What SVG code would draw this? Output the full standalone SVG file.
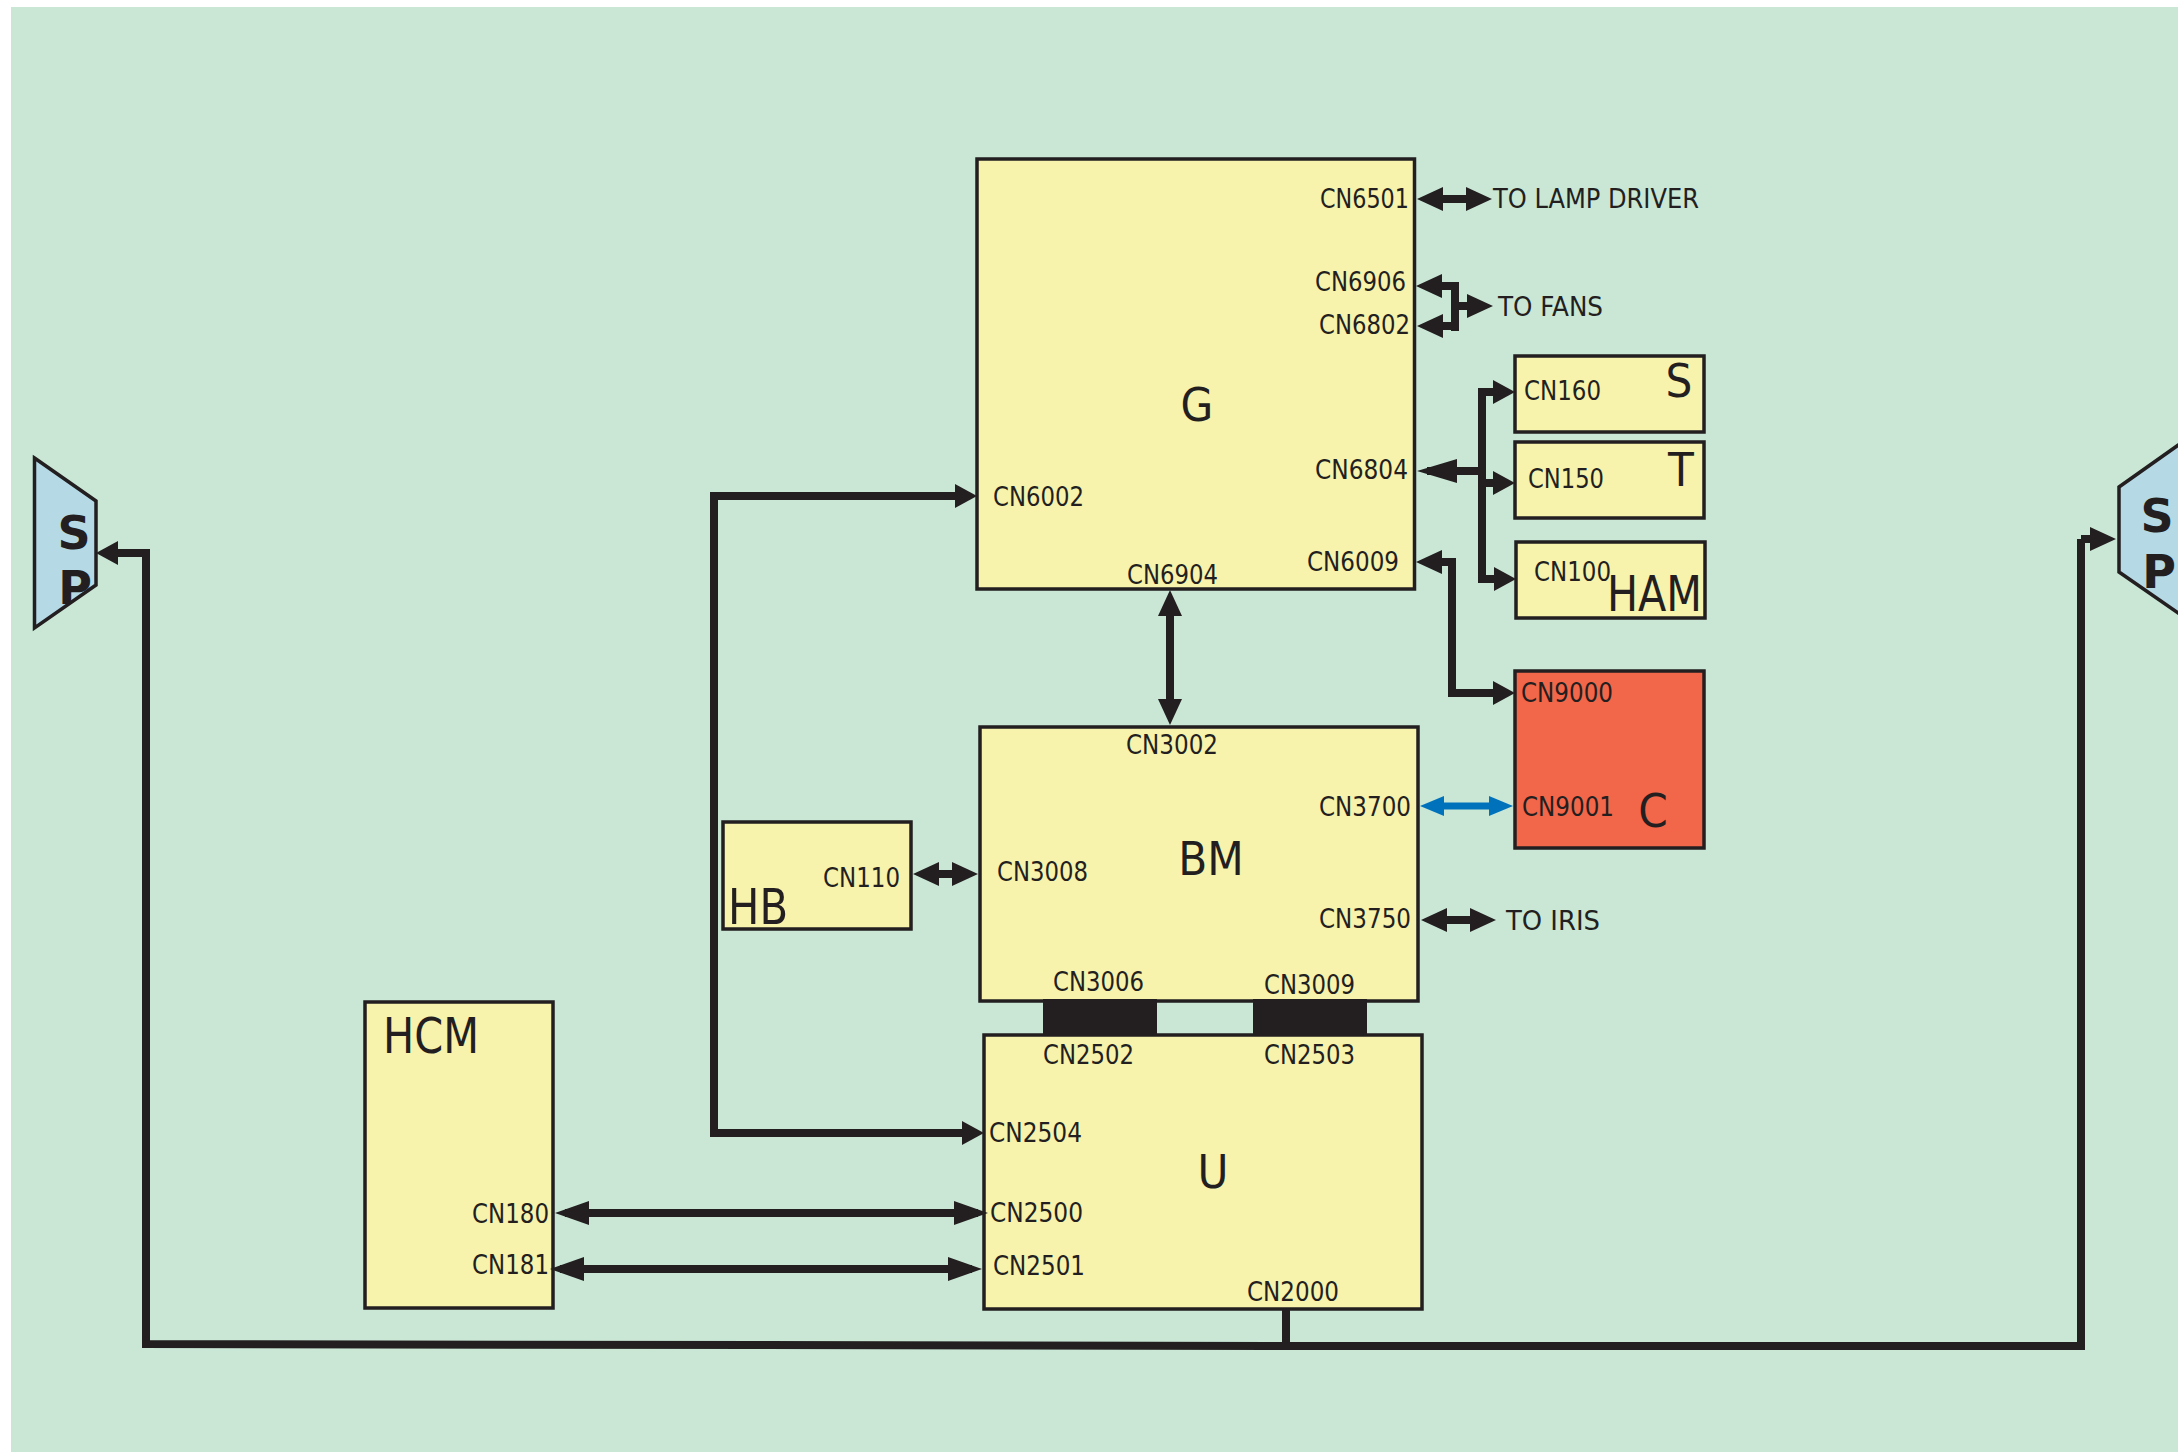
<svg xmlns="http://www.w3.org/2000/svg" width="2178" height="1452" viewBox="0 0 2178 1452">
<style>
text{font-family:"DejaVu Sans Condensed","DejaVu Sans",sans-serif;fill:#231f20}
.b{fill:#f7f2ac;stroke:#231f20;stroke-width:3.500}
.sp{fill:#b5dae6;stroke:#231f20;stroke-width:3.500}
.l{font-size:26px}
.n{font-size:47px}
.h{font-family:"DejaVu Sans",sans-serif;font-weight:bold;font-size:46px;text-anchor:middle}
.m{text-anchor:middle}
.c{fill:none;stroke:#231f20;stroke-width:8}
.a{marker-end:url(#ah)}
.s{marker-start:url(#ah)}
.as{marker-end:url(#sh)}
.ss{marker-start:url(#sh)}
.am{marker-end:url(#mh)}
.sm{marker-start:url(#mh)}
.ls{marker-start:url(#lh)}
.blue{stroke:#0072bc;stroke-width:7;marker-start:url(#bh);marker-end:url(#bh)}
</style>
<defs>
<marker id="ah" markerUnits="userSpaceOnUse" markerWidth="26" markerHeight="24" refX="16" refY="12" orient="auto-start-reverse"><path d="M0 0L26 12L0 24Z" fill="#231f20"/></marker>
<marker id="sh" markerUnits="userSpaceOnUse" markerWidth="22" markerHeight="24" refX="12" refY="12" orient="auto-start-reverse"><path d="M0 0L22 12L0 24Z" fill="#231f20"/></marker>
<marker id="mh" markerUnits="userSpaceOnUse" markerWidth="34" markerHeight="24" refX="24" refY="12" orient="auto-start-reverse"><path d="M0 0L34 12L0 24Z" fill="#231f20"/></marker>
<marker id="lh" markerUnits="userSpaceOnUse" markerWidth="40" markerHeight="24" refX="30" refY="12" orient="auto-start-reverse"><path d="M0 0L40 12L0 24Z" fill="#231f20"/></marker>
<marker id="bh" markerUnits="userSpaceOnUse" markerWidth="24" markerHeight="20" refX="14" refY="10" orient="auto-start-reverse"><path d="M0 0L24 10L0 20Z" fill="#0072bc"/></marker>
</defs>
<rect x="11" y="7" width="2167" height="1445" fill="#cae7d6"/>
<g id="node-g"><rect class="b" x="977" y="159" width="437.500" height="430"/>
<text class="n m" x="1197" y="421">G</text>
<text class="l" x="1320" y="208" textLength="89" lengthAdjust="spacingAndGlyphs">CN6501</text>
<text class="l" x="1315" y="291" textLength="91" lengthAdjust="spacingAndGlyphs">CN6906</text>
<text class="l" x="1319" y="334" textLength="91" lengthAdjust="spacingAndGlyphs">CN6802</text>
<text class="l" x="1315" y="479" textLength="93" lengthAdjust="spacingAndGlyphs">CN6804</text>
<text class="l" x="1307" y="571" textLength="92" lengthAdjust="spacingAndGlyphs">CN6009</text>
<text class="l" x="993" y="506" textLength="91" lengthAdjust="spacingAndGlyphs">CN6002</text>
<text class="l" x="1127" y="584" textLength="91" lengthAdjust="spacingAndGlyphs">CN6904</text></g>
<text id="lamp" class="l" x="1493" y="208" textLength="206" lengthAdjust="spacingAndGlyphs">TO LAMP DRIVER</text>
<text id="fans" class="l" x="1498" y="316" textLength="105" lengthAdjust="spacingAndGlyphs">TO FANS</text>
<text id="iris" class="l" x="1506" y="930" textLength="94" lengthAdjust="spacingAndGlyphs">TO IRIS</text>
<g id="node-s"><rect class="b" x="1515" y="356" width="189" height="76"/>
<text class="l" x="1524" y="400" textLength="77" lengthAdjust="spacingAndGlyphs">CN160</text>
<text class="n m" x="1679" y="397">S</text></g>
<g id="node-t"><rect class="b" x="1515" y="442" width="189" height="76"/>
<text class="l" x="1528" y="488" textLength="76" lengthAdjust="spacingAndGlyphs">CN150</text>
<text class="n m" x="1681" y="486">T</text></g>
<g id="node-ham"><rect class="b" x="1516" y="542" width="189" height="76"/>
<text class="l" x="1534" y="581" textLength="77" lengthAdjust="spacingAndGlyphs">CN100</text>
<text class="n" x="1607" y="611" style="font-size:50px" textLength="95" lengthAdjust="spacingAndGlyphs">HAM</text></g>
<g id="node-c"><rect class="b" style="fill:#f26649" x="1515" y="671" width="189" height="177"/>
<text class="l" x="1521" y="702" textLength="92" lengthAdjust="spacingAndGlyphs">CN9000</text>
<text class="l" x="1522" y="816" textLength="92" lengthAdjust="spacingAndGlyphs">CN9001</text>
<text class="n m" x="1653" y="827">C</text></g>
<g id="node-bm"><rect class="b" x="980" y="727" width="438" height="274"/>
<text class="n m" x="1211" y="875">BM</text>
<text class="l" x="1126" y="754" textLength="92" lengthAdjust="spacingAndGlyphs">CN3002</text>
<text class="l" x="1319" y="816" textLength="92" lengthAdjust="spacingAndGlyphs">CN3700</text>
<text class="l" x="1319" y="928" textLength="92" lengthAdjust="spacingAndGlyphs">CN3750</text>
<text class="l" x="997" y="881" textLength="91" lengthAdjust="spacingAndGlyphs">CN3008</text>
<text class="l" x="1053" y="991" textLength="91" lengthAdjust="spacingAndGlyphs">CN3006</text>
<text class="l" x="1264" y="994" textLength="91" lengthAdjust="spacingAndGlyphs">CN3009</text></g>
<g id="node-hb"><rect class="b" x="723" y="822" width="188" height="107"/>
<text class="l" x="823" y="887" textLength="77" lengthAdjust="spacingAndGlyphs">CN110</text>
<text class="n" x="728" y="924" style="font-size:50px" textLength="60" lengthAdjust="spacingAndGlyphs">HB</text></g>
<g id="node-u"><rect class="b" x="984" y="1035" width="438" height="274"/>
<text class="n m" x="1213" y="1188">U</text>
<text class="l" x="1043" y="1064" textLength="91" lengthAdjust="spacingAndGlyphs">CN2502</text>
<text class="l" x="1264" y="1064" textLength="91" lengthAdjust="spacingAndGlyphs">CN2503</text>
<text class="l" x="989" y="1142" textLength="93" lengthAdjust="spacingAndGlyphs">CN2504</text>
<text class="l" x="990" y="1222" textLength="93" lengthAdjust="spacingAndGlyphs">CN2500</text>
<text class="l" x="993" y="1275" textLength="92" lengthAdjust="spacingAndGlyphs">CN2501</text>
<text class="l" x="1247" y="1301" textLength="92" lengthAdjust="spacingAndGlyphs">CN2000</text></g>
<g id="node-hcm"><rect class="b" x="365" y="1002" width="188" height="306"/>
<text class="n" x="383" y="1053" style="font-size:49px" textLength="96" lengthAdjust="spacingAndGlyphs">HCM</text>
<text class="l" x="472" y="1223" textLength="77" lengthAdjust="spacingAndGlyphs">CN180</text>
<text class="l" x="472" y="1274" textLength="77" lengthAdjust="spacingAndGlyphs">CN181</text></g>
<g id="node-sp-left"><path class="sp" d="M34.500 458L96 501V585L34.500 628Z"/>
<text class="h" x="74" y="549">S</text><text class="h" x="75" y="604">P</text></g>
<g id="node-sp-right"><path class="sp" d="M2184 441L2119 487V572L2184 617"/>
<text class="h" x="2157" y="532">S</text><text class="h" x="2159" y="588">P</text></g>
<g id="connectors">
<path class="c a s" d="M1427 199H1482"/>
<path class="c s" d="M1426 286H1455V331"/>
<path class="c s" d="M1427 326H1459"/>
<path class="c a" d="M1455 306H1483"/>
<path class="c ls" d="M1427 471H1482"/>
<path class="c as ss" d="M1505 392H1482V579H1506"/>
<path class="c as" d="M1482 483H1505"/>
<path class="c s as" d="M1426 562H1452V693H1505"/>
<path class="c blue" d="M1430 806H1503"/>
<path class="c a s" d="M1431 920H1486"/>
<path class="c a s" d="M1170 600V715"/>
<path class="c a s" d="M923 874H968"/>
<path class="c as ss" d="M967 496H714V1133H974"/>
<path class="c am sm" d="M565 1213H978"/>
<path class="c am sm" d="M560 1269H972"/>
<path class="c ss" d="M106 553H146V1344L1286 1346H2081V539"/>
<path class="c a" d="M2081 539H2106"/>
<path class="c" d="M1286 1309V1346"/>
<rect x="1043" y="999" width="114" height="36" fill="#231f20"/>
<rect x="1253" y="999" width="114" height="36" fill="#231f20"/>
</g>
</svg>
